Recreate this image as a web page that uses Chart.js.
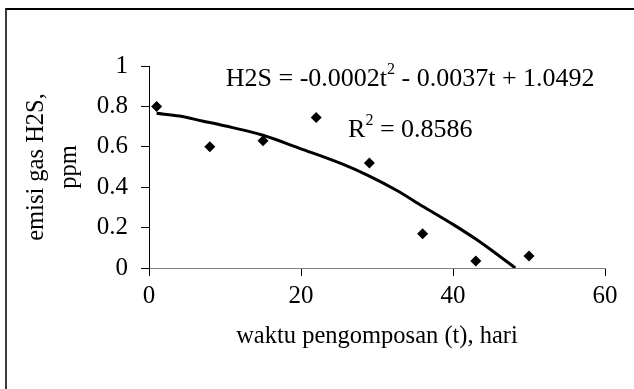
<!DOCTYPE html>
<html>
<head>
<meta charset="utf-8">
<script src="https://cdn.jsdelivr.net/npm/chart.js@4.4.0/dist/chart.umd.min.js"></script>
<style>
  body { margin: 0; background: #fff; overflow: hidden; }
  #wrap { position: relative; width: 634px; height: 389px; }
  #frame {
    position: absolute; left: 5px; top: 8px; width: 700px; height: 400px;
    border-left: 2px solid #3c3c3c; border-top: 2px solid #000;
    pointer-events: none;
  }
</style>
</head>
<body>
<div id="wrap">
  <canvas id="c" width="634" height="389"></canvas>
  <div id="frame"></div>
</div>
<script>
// measured data (hari, ppm)
const days = [1, 8, 15, 22, 29, 36, 43, 50];
const h2s = [0.80, 0.60, 0.63, 0.745, 0.52, 0.17, 0.035, 0.06];

// trend line as drawn in the picture
const trendDays = [1, 4, 7, 11, 15, 20, 25.4, 29, 32.5, 36, 40, 43, 45.6, 48.2];
const trendVals = [0.766, 0.752, 0.728, 0.695, 0.657, 0.59, 0.515, 0.455, 0.386, 0.306, 0.216, 0.143, 0.073, 0.0];

const xTicks = [0, 20, 40, 60];
const yTicks = [0, 0.2, 0.4, 0.6, 0.8, 1];

const serif = 'Liberation Serif';

// equation label, drawn with a raised "2"
const eqLabel = {
  id: 'eqLabel',
  afterDraw(chart) {
    const ctx = chart.ctx;
    const xs = chart.scales.x, ys = chart.scales.y;
    const parts1 = [['H2S = -0.0002t', 0], ['2', 1], [' - 0.0037t + 1.0492', 0]];
    const parts2 = [['R', 0], ['2', 1], [' = 0.8586', 0]];
    const drawParts = (parts, x, y) => {
      ctx.save();
      ctx.fillStyle = '#000';
      ctx.textBaseline = 'middle';
      ctx.textAlign = 'left';
      parts.forEach(([t, sup]) => {
        ctx.font = (sup ? '16px ' : '26px ') + serif;
        ctx.fillText(t, x, sup ? y - 9 : y);
        x += ctx.measureText(t).width;
      });
      ctx.restore();
    };
    drawParts(parts1, xs.getPixelForValue(10.1), ys.getPixelForValue(0.936));
    drawParts(parts2, xs.getPixelForValue(26.2), ys.getPixelForValue(0.683));
  }
};

new Chart(document.getElementById('c'), {
  type: 'scatter',
  data: {
    datasets: [
      {
        type: 'line',
        data: trendDays.map((d, i) => ({ x: d, y: trendVals[i] })),
        borderColor: '#000',
        borderWidth: 3,
        pointRadius: 0,
        cubicInterpolationMode: 'monotone',
        fill: false
      },
      {
        data: days.map((d, i) => ({ x: d, y: h2s[i] })),
        pointStyle: 'rectRot',
        pointRadius: 5.5,
        backgroundColor: '#000',
        borderColor: '#000',
        borderWidth: 0
      }
    ]
  },
  plugins: [eqLabel],
  options: {
    responsive: false,
    animation: false,
    layout: { padding: { top: 66, right: 29, left: 0, bottom: 0 } },
    plugins: { legend: { display: false }, tooltip: { enabled: false } },
    scales: {
      x: {
        type: 'linear',
        min: 0, max: 60,
        afterBuildTicks: (s) => { s.ticks = xTicks.map(v => ({ value: v })); },
        afterFit: (s) => { s.height = 121; },
        grid: { drawOnChartArea: false, drawTicks: true, tickLength: 8, color: '#000' },
        border: { display: true, color: '#808080', width: 1 },
        ticks: { color: '#000', padding: 5, maxRotation: 0, font: { family: serif, size: 25 } },
        title: {
          display: true,
          text: 'waktu pengomposan (t), hari',
          color: '#000',
          font: { family: serif, size: 24.5 },
          padding: { top: 0, bottom: 38 }
        }
      },
      y: {
        min: 0, max: 1,
        afterBuildTicks: (s) => { s.ticks = yTicks.map(v => ({ value: v })); },
        afterFit: (s) => { s.width = 149; },
        grid: { drawOnChartArea: false, drawTicks: true, tickLength: 8, color: '#000' },
        border: { display: true, color: '#000', width: 1 },
        ticks: {
          color: '#000', padding: 13, font: { family: serif, size: 25 },
          callback: (v) => String(Math.round(v * 10) / 10)
        },
        title: {
          display: true,
          text: ['emisi gas H2S,', 'ppm'],
          color: '#000',
          font: { family: serif, size: 24.5, lineHeight: 1.35 },
          padding: { top: 20, bottom: 0 }
        }
      }
    }
  }
});
</script>
</body>
</html>
